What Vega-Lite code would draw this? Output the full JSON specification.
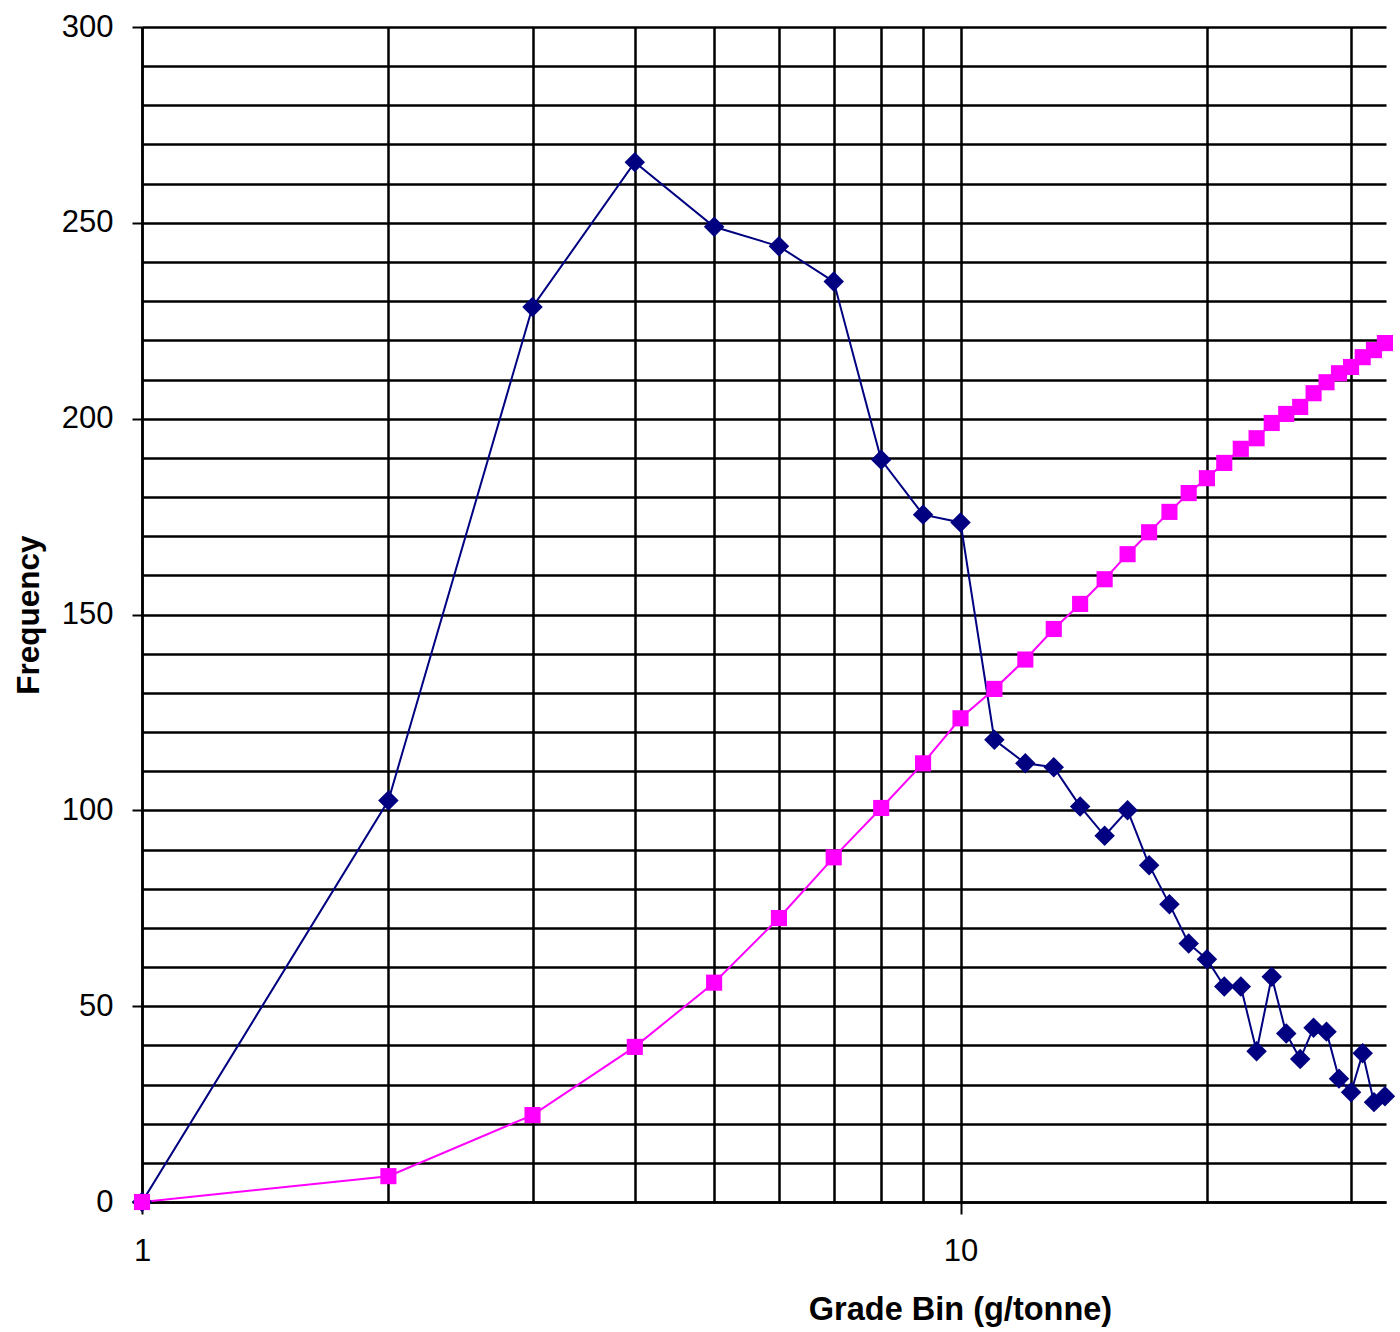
{
  "$schema": "https://vega.github.io/schema/vega-lite/v6.json",
  "autosize": {"type": "none"},
  "padding": {"left": 142, "top": 27, "right": 14, "bottom": 130},
  "width": 1244,
  "height": 1175,
  "background": "white",
  "config": {"view": {"stroke": null}},
  "data": {"values": [
    {"bin": 1, "frequency": 0, "cumulative": 0},
    {"bin": 2, "frequency": 102.5, "cumulative": 6.6},
    {"bin": 3, "frequency": 228.5, "cumulative": 22.2},
    {"bin": 4, "frequency": 265.5, "cumulative": 39.6},
    {"bin": 5, "frequency": 249, "cumulative": 56},
    {"bin": 6, "frequency": 244, "cumulative": 72.5},
    {"bin": 7, "frequency": 235, "cumulative": 88},
    {"bin": 8, "frequency": 189.5, "cumulative": 100.6},
    {"bin": 9, "frequency": 175.5, "cumulative": 112},
    {"bin": 10, "frequency": 173.5, "cumulative": 123.5},
    {"bin": 11, "frequency": 118, "cumulative": 131},
    {"bin": 12, "frequency": 112, "cumulative": 138.5},
    {"bin": 13, "frequency": 111, "cumulative": 146.3},
    {"bin": 14, "frequency": 101, "cumulative": 152.7},
    {"bin": 15, "frequency": 93.5, "cumulative": 159},
    {"bin": 16, "frequency": 100, "cumulative": 165.4},
    {"bin": 17, "frequency": 86, "cumulative": 171},
    {"bin": 18, "frequency": 76, "cumulative": 176.2},
    {"bin": 19, "frequency": 66, "cumulative": 181},
    {"bin": 20, "frequency": 62, "cumulative": 184.8},
    {"bin": 21, "frequency": 55, "cumulative": 188.7},
    {"bin": 22, "frequency": 55, "cumulative": 192.3},
    {"bin": 23, "frequency": 38.5, "cumulative": 195},
    {"bin": 24, "frequency": 57.5, "cumulative": 198.9},
    {"bin": 25, "frequency": 43, "cumulative": 201.2},
    {"bin": 26, "frequency": 36.5, "cumulative": 203},
    {"bin": 27, "frequency": 44.5, "cumulative": 206.5},
    {"bin": 28, "frequency": 43.5, "cumulative": 209.3},
    {"bin": 29, "frequency": 31.5, "cumulative": 211.6},
    {"bin": 30, "frequency": 28, "cumulative": 213.2},
    {"bin": 31, "frequency": 38, "cumulative": 215.7},
    {"bin": 32, "frequency": 25.5, "cumulative": 217.5},
    {"bin": 33, "frequency": 27, "cumulative": 219.3},
    {"bin": 34, "frequency": 34, "cumulative": 222.6}
  ]},
  "transform": [{"fold": ["frequency", "cumulative"], "as": ["series", "value"]}],
  "encoding": {
    "x": {
      "field": "bin", "type": "quantitative",
      "scale": {"type": "log", "domain": [1, 33.1], "nice": false},
      "axis": {
        "values": [1, 2, 3, 4, 5, 6, 7, 8, 9, 10, 20, 30],
        "format": "d",
        "labelExpr": "(datum.value == 1 || datum.value == 10) ? datum.label : ''",
        "labelOverlap": false,
        "labelFlush": false,
        "grid": true, "gridColor": "black", "gridWidth": 2.5, "gridOpacity": 1,
        "domainColor": "black", "domainWidth": 2.5,
        "tickColor": "black", "tickWidth": 2, "tickSize": 12,
        "tickOpacity": {"condition": {"test": "datum.value == 1 || datum.value == 10", "value": 1}, "value": 0},
        "labelFont": "Liberation Sans", "labelFontSize": 31, "labelColor": "black", "labelPadding": 22,
        "title": "Grade Bin (g/tonne)",
        "titleFont": "Liberation Sans", "titleFontSize": 32.5, "titleFontWeight": "bold", "titleColor": "black",
        "titleX": 818, "titleAlign": "center", "titlePadding": 27
      }
    },
    "y": {
      "field": "value", "type": "quantitative",
      "scale": {"domain": [0, 300], "nice": false, "zero": true},
      "axis": {
        "values": [0, 10, 20, 30, 40, 50, 60, 70, 80, 90, 100, 110, 120, 130, 140, 150, 160, 170, 180, 190, 200, 210, 220, 230, 240, 250, 260, 270, 280, 290, 300],
        "labelExpr": "datum.value % 50 == 0 ? datum.label : ''",
        "labelOverlap": false,
        "labelFlush": false,
        "grid": true, "gridColor": "black", "gridWidth": 2.5, "gridOpacity": 1,
        "domainColor": "black", "domainWidth": 2.5,
        "tickColor": "black", "tickWidth": 2, "tickSize": 10,
        "tickOpacity": {"condition": {"test": "datum.value % 50 == 0", "value": 1}, "value": 0},
        "labelFont": "Liberation Sans", "labelFontSize": 31, "labelColor": "black", "labelPadding": 19,
        "title": "Frequency",
        "titleFont": "Liberation Sans", "titleFontSize": 31.5, "titleFontWeight": "bold", "titleColor": "black",
        "titlePadding": 16
      }
    },
    "color": {
      "field": "series", "type": "nominal",
      "scale": {"domain": ["frequency", "cumulative"], "range": ["#000080", "#FF00FF"]},
      "legend": null
    }
  },
  "layer": [
    {"mark": {"type": "line", "strokeWidth": 2, "clip": true}},
    {
      "transform": [{"filter": "datum.bin <= 33"}],
      "mark": {"type": "point", "filled": true, "opacity": 1, "clip": false},
      "encoding": {
        "shape": {"field": "series", "type": "nominal", "scale": {"domain": ["frequency", "cumulative"], "range": ["diamond", "square"]}, "legend": null},
        "size": {"field": "series", "type": "nominal", "scale": {"domain": ["frequency", "cumulative"], "range": [420, 260]}, "legend": null}
      }
    }
  ]
}
